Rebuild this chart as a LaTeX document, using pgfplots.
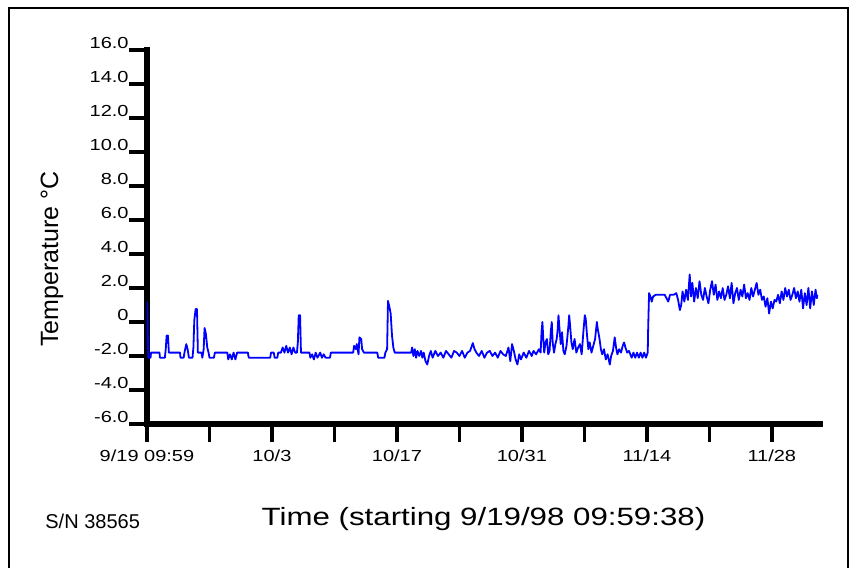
\documentclass[border=0pt]{standalone}
\usepackage{fontspec}
\setmainfont{Liberation Sans}[FakeStretch=1.25]
\newfontfamily\plainsans{Liberation Sans}
\usepackage{pgfplots}
\pgfplotsset{compat=1.18}

\begin{document}
\begin{tikzpicture}
\begin{axis}[
  name=ax,
  scale only axis,
  width=336.5pt, height=187pt,
  xmin=0, xmax=75.4,
  ymin=-6, ymax=16,
  axis x line=bottom, axis y line=left,
  axis line style={-, line width=2.6pt, line cap=rect},
  every outer x axis line/.append style={line width=2.6pt},
  every outer y axis line/.append style={line width=2.6pt},
  tick align=outside,
  major tick length=9pt,
  tick style={line width=1.7pt, black},
  every major tick/.append style={line width=1.7pt},
  xtick={0,7,14,21,28,35,42,49,56,63,70},
  xticklabels={9/19 09:59,,10/3,,10/17,,10/31,,11/14,,11/28},
  ytick={-6,-4,...,16},
  yticklabels={-6.0,-4.0,-2.0,0,2.0,4.0,6.0,8.0,10.0,12.0,14.0,16.0},
  minor tick num=0,
  tick label style={font=\fontsize{8}{9.6}\selectfont},
  yticklabel style={anchor=south east, inner sep=0pt, yshift=0.6pt},
  xticklabel style={inner sep=0pt, yshift=-3.5pt},
  xlabel={Time (starting 9/19/98 09:59:38)},
  xlabel style={at={(axis description cs:0.5,0)}, anchor=north, inner sep=0pt,
    yshift=-41.5pt, font=\fontsize{12.5}{15}\selectfont},
]
\addplot[color=blue, line width=0.9pt, line join=round] coordinates {
(0,1.2) (0.05,0.6) (0.1,-1.0) (0.15,-2.1) (0.4,-2.1) (0.45,-1.8) (1.4,-1.8) (1.45,-2.1)
(2.0,-2.1) (2.1,-1.6) (2.2,-0.8) (2.35,-0.8) (2.45,-1.8) (3.7,-1.8) (3.75,-2.1) (4.1,-2.1)
(4.2,-1.8) (4.4,-1.3) (4.55,-1.6) (4.7,-2.1) (5.1,-2.1) (5.2,-1.5) (5.3,0.1) (5.45,0.76)
(5.6,0.76) (5.7,-1.8) (6.1,-1.8) (6.2,-2.1) (6.35,-1.6) (6.45,-0.35) (6.6,-0.7) (6.75,-1.5)
(6.9,-1.8) (7.0,-2.1) (7.5,-2.1) (7.6,-1.8) (9.0,-1.8) (9.1,-2.2) (9.3,-1.9) (9.5,-2.2)
(9.7,-1.8) (9.9,-2.2) (10.1,-1.8) (11.3,-1.8) (11.4,-2.1) (13.8,-2.1) (13.9,-1.8) (14.2,-1.8)
(14.3,-2.1) (14.6,-2.1) (14.7,-1.8) (15.0,-1.8) (15.2,-1.5) (15.4,-1.8) (15.6,-1.4) (15.8,-1.8)
(16.0,-1.5) (16.2,-1.9) (16.4,-1.5) (16.6,-1.8) (16.8,-1.8) (16.9,-1.2) (17.0,0.4) (17.15,0.4)
(17.25,-1.8) (18.2,-1.8) (18.3,-2.1) (18.5,-1.9) (18.7,-2.2) (18.9,-1.8) (19.1,-2.1) (19.4,-1.8)
(19.6,-2.1) (19.8,-1.9) (20.0,-2.1) (20.5,-2.1) (20.6,-1.8) (23.1,-1.8) (23.2,-1.4) (23.4,-1.6)
(23.5,-1.3) (23.7,-1.9) (23.8,-0.9) (24.0,-1.0) (24.1,-1.6) (24.3,-1.8) (25.8,-1.8) (25.9,-2.1)
(26.6,-2.1) (26.7,-1.8) (26.9,-1.6) (27.0,1.24) (27.15,0.9) (27.3,0.5) (27.45,-0.8) (27.6,-1.5)
(27.75,-1.8) (29.6,-1.8) (29.7,-1.5) (29.85,-2.0) (30.0,-1.6) (30.15,-2.1) (30.3,-1.7) (30.5,-2.0)
(30.7,-1.7) (30.85,-2.1) (31.0,-1.8) (31.2,-2.3) (31.4,-2.5) (31.6,-2.0) (31.8,-1.7)
(32.0,-2.1) (32.3,-1.7) (32.6,-2.0) (32.9,-1.8) (33.2,-2.1) (33.5,-1.7) (33.8,-1.9) (34.1,-2.1)
(34.4,-1.7) (34.7,-1.8) (35.0,-2.0) (35.3,-1.7) (35.6,-2.1) (35.9,-1.8) (36.2,-1.7) (36.5,-1.24)
(36.7,-1.6) (36.9,-1.8) (37.2,-2.0) (37.5,-1.7) (37.8,-2.1) (38.1,-1.8) (38.4,-1.7) (38.7,-2.0)
(39.0,-1.8) (39.3,-2.1) (39.6,-1.7) (39.9,-1.9) (40.2,-2.0) (40.5,-1.5) (40.7,-2.3) (40.9,-1.3)
(41.1,-1.7) (41.3,-2.2) (41.5,-2.5) (41.7,-1.9) (41.9,-2.2) (42.2,-1.8) (42.5,-2.1) (42.8,-1.7)
(43.1,-2.0) (43.3,-1.7) (43.6,-1.9) (43.9,-1.6) (44.1,-1.8) (44.2,-0.6) (44.3,0.0) (44.4,-1.0)
(44.5,-1.8) (44.65,-1.2) (44.8,-1.0) (44.95,-1.9) (45.1,-1.7) (45.25,-0.5) (45.35,0.0) (45.45,-1.2)
(45.6,-1.8) (45.75,-1.3) (45.9,-1.0) (46.0,-0.5) (46.1,0.4) (46.2,-0.3) (46.35,-1.3) (46.5,-0.6)
(46.65,-1.7) (46.8,-1.9) (47.0,-1.4) (47.2,-0.3) (47.3,0.4) (47.4,-0.2) (47.55,-1.2) (47.7,-1.6)
(47.9,-1.0) (48.1,-1.8) (48.3,-1.5) (48.5,-1.3) (48.7,-1.9) (48.9,-0.5) (49.05,0.4) (49.15,0.2)
(49.3,-0.8) (49.45,-1.6) (49.6,-1.2) (49.8,-1.8) (50.0,-1.4) (50.2,-1.0) (50.4,0.0) (50.5,-0.4)
(50.7,-1.0) (50.85,-1.6) (51.0,-1.9) (51.2,-1.6) (51.4,-2.2) (51.6,-1.9) (51.85,-2.5) (52.0,-2.0)
(52.2,-1.7) (52.4,-0.9) (52.55,-1.5) (52.7,-1.9) (52.9,-1.6) (53.1,-1.8) (53.3,-1.4) (53.45,-1.2)
(53.6,-1.5) (53.8,-1.8) (54.0,-1.7) (54.3,-2.1) (54.5,-1.8) (54.7,-2.1) (54.9,-1.8) (55.1,-2.1)
(55.3,-1.8) (55.5,-2.1) (55.7,-1.8) (55.9,-2.1) (56.1,-1.8) (56.15,-0.3) (56.25,1.7) (56.4,1.5)
(56.55,1.2) (56.7,1.5) (57.0,1.6) (58.0,1.6) (58.2,1.4) (58.4,1.2) (58.6,1.6) (59.0,1.6)
(59.3,1.7) (59.5,1.3) (59.7,0.7) (59.85,1.0) (60.0,1.8) (60.2,1.2) (60.4,1.9) (60.6,1.3)
(60.8,2.8) (60.95,1.5) (61.1,2.3) (61.3,1.2) (61.5,2.0) (61.7,1.4) (61.9,2.4) (62.1,1.6)
(62.3,1.3) (62.5,2.0) (62.7,1.5) (62.9,1.1) (63.1,1.9) (63.3,2.4) (63.5,1.6) (63.7,2.2)
(63.9,1.3) (64.1,1.8) (64.3,1.4) (64.5,2.0) (64.7,1.3) (64.9,1.6) (65.1,2.1) (65.3,1.4)
(65.5,2.3) (65.7,1.1) (65.9,1.7) (66.1,2.0) (66.3,1.3) (66.5,1.9) (66.7,1.5) (66.9,2.2)
(67.1,1.4) (67.3,1.7) (67.5,1.3) (67.7,2.0) (67.9,1.5) (68.1,1.9) (68.3,2.3) (68.5,1.6)
(68.7,1.9) (68.9,1.3) (69.1,1.5) (69.3,0.9) (69.5,1.4) (69.7,0.5) (69.9,1.2) (70.1,0.8)
(70.3,1.3) (70.5,1.2) (70.7,1.6) (70.9,1.1) (71.1,1.8) (71.3,1.3) (71.5,2.0) (71.7,1.5)
(71.9,1.9) (72.1,1.3) (72.3,1.6) (72.5,2.0) (72.7,1.4) (72.9,1.8) (73.1,1.2) (73.3,1.9)
(73.5,0.8) (73.7,1.7) (73.9,1.0) (74.1,2.0) (74.3,0.8) (74.5,1.8) (74.7,1.0) (74.9,1.9)
(75.05,1.4) (75.1,1.6)
};
\end{axis}
\node[rotate=90, anchor=center, inner sep=0pt, font=\plainsans\fontsize{12.5}{15}\selectfont]
  at ([shift={(-47.5pt,82.5pt)}]ax.south west) {Temperature \textdegree C};
\node[anchor=west, inner sep=0pt, font=\fontsize{10}{12}\selectfont\plainsans]
  at ([shift={(-51pt,-48.5pt)}]ax.south west) {S/N 38565};
\draw[line width=1pt]
  ([shift={(-69pt,-72pt)}]ax.south west) -- ([shift={(-69pt,208pt)}]ax.south west)
  -- ([shift={(350.5pt,208pt)}]ax.south west) -- ([shift={(350.5pt,-72pt)}]ax.south west);
\useasboundingbox ([shift={(-73.5pt,-70pt)}]ax.south west) rectangle ([shift={(354.5pt,212pt)}]ax.south west);
\end{tikzpicture}
\end{document}
